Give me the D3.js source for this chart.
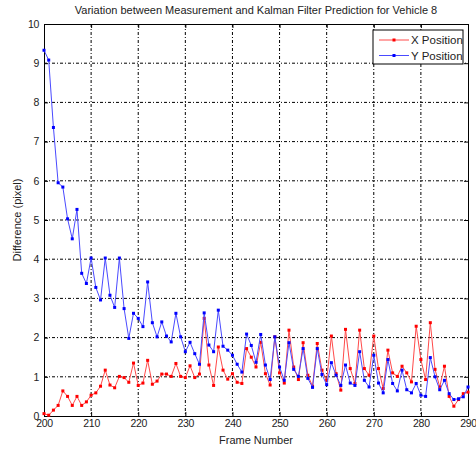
<!DOCTYPE html>
<html>
<head>
<meta charset="utf-8">
<script src="https://cdn.jsdelivr.net/npm/d3@7"></script>
<style>
  body { margin: 0; background: #fff; }
  text { font-family: Arial, "Liberation Sans", sans-serif; }
</style>
</head>
<body>
<div class="chart"></div>
<script>
// frame numbers 200..290
const frames = d3.range(200, 291);

const xPosition = [
  0.06, 0.02, 0.15, 0.27, 0.64, 0.50, 0.27, 0.50, 0.27, 0.36,
  0.53, 0.59, 0.76, 1.17, 0.79, 0.72, 1.01, 0.98, 0.86, 1.35,
  0.78, 0.84, 1.42, 0.81, 0.89, 1.07, 1.07, 1.01, 1.34, 1.01,
  0.98, 1.28, 0.98, 1.07, 2.49, 1.30, 0.78, 1.76, 1.17, 0.94,
  1.08, 0.86, 0.83, 1.72, 1.50, 1.25, 1.88, 1.08, 0.79, 2.02,
  1.10, 0.84, 2.19, 1.25, 0.93, 1.87, 1.04, 0.76, 1.85, 1.17,
  0.91, 2.04, 1.08, 0.66, 2.21, 1.21, 0.83, 2.19, 1.21, 1.04,
  2.04, 1.21, 0.70, 1.68, 1.10, 1.01, 1.27, 1.10, 0.87, 2.29,
  1.44, 0.93, 2.38, 1.19, 0.74, 1.27, 0.50, 0.25, 0.42, 0.57,
  0.61
];

const yPosition = [
  9.33, 9.08, 7.36, 5.95, 5.84, 5.03, 4.52, 5.27, 3.64, 3.38,
  4.03, 3.28, 2.96, 4.03, 3.08, 2.77, 4.03, 2.74, 1.98, 2.62,
  2.49, 2.28, 3.42, 2.38, 2.02, 2.40, 2.04, 1.89, 2.62, 2.02,
  1.64, 1.88, 1.59, 1.32, 2.63, 1.81, 1.64, 2.70, 1.78, 1.68,
  1.55, 1.32, 1.12, 2.09, 1.80, 1.37, 2.08, 1.30, 0.93, 2.02,
  1.25, 0.91, 1.87, 1.19, 1.01, 1.72, 0.96, 0.73, 1.72, 1.06,
  0.80, 1.36, 1.04, 0.78, 1.30, 0.84, 0.78, 1.64, 0.91, 0.74,
  1.55, 0.84, 0.59, 1.44, 0.83, 0.64, 1.17, 0.67, 0.59, 0.83,
  0.53, 0.50, 1.49, 1.00, 0.67, 0.91, 0.57, 0.42, 0.44, 0.49,
  0.74
];

const xTicks = d3.range(200, 291, 10);
const yTicks = d3.range(0, 11, 1);

const W = 476, H = 449;
const margin = { top: 24, right: 8, bottom: 33, left: 44 };
const width = W - margin.left - margin.right,
  height = H - margin.top - margin.bottom;

const svg = d3.select(".chart").append("svg")
  .attr("width", W)
  .attr("height", H);

const g = svg.append("g")
  .attr("transform", "translate(" + margin.left + "," + margin.top + ")");

const x = d3.scaleLinear().domain([200, 290]).range([0, width]);
const y = d3.scaleLinear().domain([0, 10]).range([height, 0]);

// grid
g.append("g").selectAll("line")
  .data(xTicks.slice(1, -1))
  .enter().append("line")
  .attr("x1", d => x(d)).attr("x2", d => x(d))
  .attr("y1", 0).attr("y2", height)
  .attr("stroke", "#000").attr("stroke-width", 1)
  .attr("stroke-dasharray", "3,2,1,2");

g.append("g").selectAll("line")
  .data(yTicks.slice(1, -1))
  .enter().append("line")
  .attr("x1", 0).attr("x2", width)
  .attr("y1", d => y(d)).attr("y2", d => y(d))
  .attr("stroke", "#000").attr("stroke-width", 1)
  .attr("stroke-dasharray", "3,2,1,2");

// axes (ticks inward)
g.append("g")
  .attr("transform", "translate(0," + height + ")")
  .call(d3.axisBottom(x).tickValues(xTicks).tickSize(-4).tickPadding(4).tickFormat(d3.format("d")));
g.append("g")
  .call(d3.axisLeft(y).tickValues(yTicks).tickSize(-4).tickPadding(5).tickFormat(d3.format("d")));
g.append("g")
  .call(d3.axisTop(x).tickValues(xTicks).tickSize(-4).tickFormat(""));
g.append("g")
  .attr("transform", "translate(" + width + ",0)")
  .call(d3.axisRight(y).tickValues(yTicks).tickSize(-4).tickFormat(""));

g.selectAll(".domain").attr("stroke", "#000");
g.selectAll(".tick line").attr("stroke", "#000");
g.selectAll(".tick text")
  .attr("font-size", 10.5)
  .attr("letter-spacing", "-0.3px")
  .attr("fill", "#222");

// series
const series = [
  { name: "X Position", values: xPosition, color: "#ff0000", line: "#ff4a4a" },
  { name: "Y Position", values: yPosition, color: "#0000ff", line: "#4a4aff" }
];

const line = d3.line()
  .x((d, i) => x(frames[i]))
  .y(d => y(d));

series.forEach(s => {
  g.append("path")
    .datum(s.values)
    .attr("fill", "none")
    .attr("stroke", s.line)
    .attr("stroke-width", 1)
    .attr("d", line);
  g.append("g").selectAll("rect")
    .data(s.values)
    .enter().append("rect")
    .attr("x", (d, i) => x(frames[i]) - 1.5)
    .attr("y", d => y(d) - 1.5)
    .attr("width", 3).attr("height", 3)
    .attr("fill", s.color);
});

// title & labels
svg.append("text")
  .attr("x", margin.left + width / 2).attr("y", 14)
  .attr("text-anchor", "middle").attr("font-size", 11).attr("fill", "#222")
  .text("Variation between Measurement and Kalman Filter Prediction for Vehicle 8");

svg.append("text")
  .attr("x", margin.left + width / 2).attr("y", 444)
  .attr("text-anchor", "middle").attr("font-size", 11).attr("fill", "#222")
  .text("Frame Number");

svg.append("text")
  .attr("transform", "translate(21," + (margin.top + height / 2) + ") rotate(-90)")
  .attr("text-anchor", "middle").attr("font-size", 11).attr("fill", "#222")
  .text("Difference (pixel)");

// legend
const lg = svg.append("g").attr("transform", "translate(373,30)");
lg.append("rect")
  .attr("width", 90).attr("height", 34)
  .attr("fill", "#fff").attr("stroke", "#000");
series.forEach((s, i) => {
  const yy = 10 + i * 15.5;
  lg.append("line")
    .attr("x1", 6).attr("x2", 36).attr("y1", yy).attr("y2", yy)
    .attr("stroke", s.line);
  lg.append("rect")
    .attr("x", 19.5).attr("y", yy - 1.5).attr("width", 3).attr("height", 3)
    .attr("fill", s.color);
  lg.append("text")
    .attr("x", 38).attr("y", yy + 4)
    .attr("font-size", 11.5).attr("fill", "#222")
    .text(s.name);
});
</script>
</body>
</html>
